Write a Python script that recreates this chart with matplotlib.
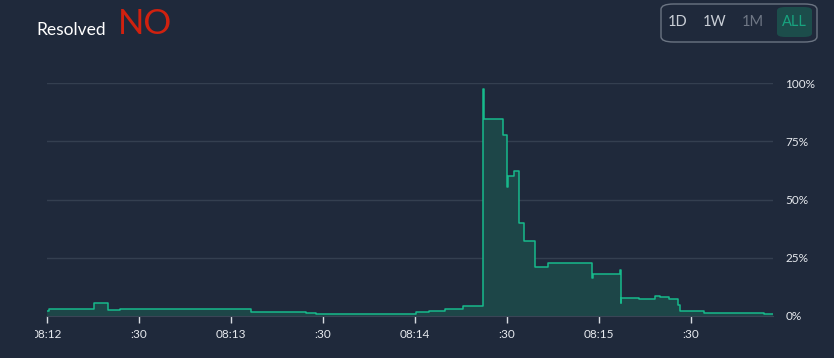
import matplotlib.pyplot as plt
from matplotlib.patches import FancyBboxPatch
from matplotlib.transforms import Bbox

# seconds after 08:12:00 and resolved probability (%)
t_sec = [0.0, 0.5, 15.3, 19.8, 23.8, 66.5, 84.5, 87.6, 120.3, 122.0, 124.6,
         129.6, 135.6, 142.2, 142.4, 148.7, 150.0, 150.2, 152.3, 154.0, 155.4,
         159.2, 163.3, 177.8, 178.0, 186.9, 187.1, 187.3, 192.9, 198.2, 200.0,
         202.8, 205.7, 206.5, 214.1, 233.8, 236.7]
prob = [2.0, 2.9, 5.4, 2.6, 2.8, 1.8, 1.1, 0.9, 1.6, 1.9, 2.2,
        2.9, 4.4, 97.4, 84.5, 77.5, 55.5, 60.0, 62.1, 39.9, 32.2,
        21.2, 22.6, 16.3, 17.9, 19.6, 5.4, 7.9, 7.3, 8.5, 8.0,
        7.3, 4.6, 2.1, 1.1, 0.9, 0.9]

x_ticks = [0, 30, 60, 90, 120, 150, 180, 210]
x_labels = ["08:12", ":30", "08:13", ":30", "08:14", ":30", "08:15", ":30"]
y_ticks = [0, 25, 50, 75, 100]
y_labels = ["0%", "25%", "50%", "75%", "100%"]

bg = "#1f293b"
line_c = "#17b98b"
fill_c = "#1d4648"
W, H = 834, 358

plt.rcParams['font.family'] = ['Lato', 'DejaVu Sans']

fig = plt.figure(figsize=(W / 100, H / 100), dpi=100, facecolor=bg)
ax = fig.add_axes([47 / W, (H - 316) / H, (773 - 47) / W, (316 - 83) / H])
ax.set_facecolor(bg)

ax.step(t_sec, prob, where="post", color=line_c, lw=1.1, zorder=3)
ax.fill_between(t_sec, prob, step="post", color=fill_c, lw=0, zorder=2)

ax.set_xlim(0, 236.7)
ax.set_ylim(0, 100)
ax.set_xticks(x_ticks)
ax.set_xticklabels(x_labels)
ax.set_yticks(y_ticks)
ax.set_yticklabels(y_labels)
ax.yaxis.tick_right()
ax.tick_params(axis="y", length=0, pad=9, labelsize=8.5, labelcolor="#e6e9ee")
ax.tick_params(axis="x", length=5, width=1, color="#d8dce2", pad=4,
               labelsize=8.5, labelcolor="#e6e9ee")
for s in ["top", "left", "right"]:
    ax.spines[s].set_visible(False)
ax.spines["bottom"].set_color("#3a4556")
for y in y_ticks[1:]:
    ax.axhline(y, color="#343f50", lw=1, zorder=1)

# first label is cut off at the left edge in the original
fig.canvas.draw()
lbl = ax.get_xticklabels()[0]
lbl.set_clip_box(Bbox([[35, 0], [W, H]]))
lbl.set_clip_on(True)

fig.text(36 / W, 1 - 30 / H, "Resolved", color="white", fontsize=12.5,
         va="center", ha="left")
fig.text(118 / W, 1 - 24 / H, "NO", color="#d0210f", fontsize=25,
         va="center", ha="left")

# range buttons
box = FancyBboxPatch((661 / W, 1 - 42 / H), 156 / W, 38 / H,
                     boxstyle="round,pad=0,rounding_size=0.015",
                     transform=fig.transFigure, fc="none", ec="#6b7482", lw=1)
fig.patches.append(box)
sel = FancyBboxPatch((777 / W, 1 - 37 / H), 35 / W, 30 / H,
                     boxstyle="round,pad=0,rounding_size=0.01",
                     transform=fig.transFigure, fc="#1c4d4b", ec="none")
fig.patches.append(sel)
for xp, txt, col in [(678, "1D", "#c9ced6"), (715, "1W", "#c9ced6"),
                     (753, "1M", "#6f7785"), (794.5, "ALL", "#18a37f")]:
    fig.text(xp / W, 1 - 22 / H, txt, color=col, fontsize=10.5,
             ha="center", va="center")

fig.savefig("out.png", dpi=100, facecolor=bg)
